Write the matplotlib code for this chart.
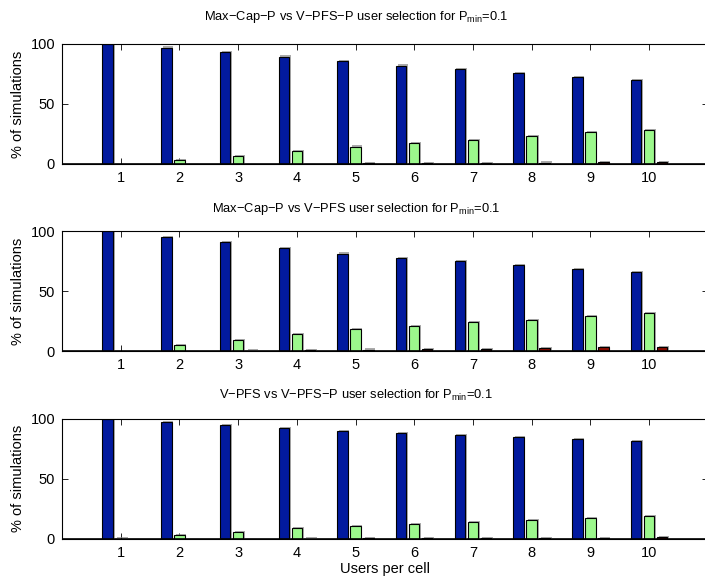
# -*- coding: utf-8 -*-
import matplotlib
matplotlib.use('Agg')
import matplotlib.pyplot as plt
import matplotlib.patheffects as pe
import numpy as np

users = [1, 2, 3, 4, 5, 6, 7, 8, 9, 10]

titles = ['Max\u2212Cap\u2212P vs V\u2212PFS\u2212P user selection for P$_{\\mathrm{min}}$=0.1',
          'Max\u2212Cap\u2212P vs V\u2212PFS user selection for P$_{\\mathrm{min}}$=0.1',
          'V\u2212PFS vs V\u2212PFS\u2212P user selection for P$_{\\mathrm{min}}$=0.1']

# subplot 1
blue1 = [100, 97, 93.5, 89.5, 85.5, 82, 79, 75.5, 72.2, 69.6]
green1 = [0.3, 3.5, 6.5, 10.5, 14.5, 17.7, 20, 23.3, 26.3, 28.3]
red1 = [0.2, 0.2, 0.2, 0.3, 0.5, 0.7, 1.1, 1.2, 1.6, 1.9]
# subplot 2
blue2 = [100, 95.3, 90.6, 85.6, 81.2, 77.6, 74.8, 71.5, 68.1, 65.7]
green2 = [0.3, 5, 9.1, 14.1, 18, 21, 23.8, 25.8, 28.8, 31.3]
red2 = [0.2, 0.3, 0.4, 0.5, 1.2, 1.3, 1.3, 2.2, 3.2, 3.3]
# subplot 3
blue3 = [100, 97.5, 94.7, 91.9, 89.7, 87.8, 86.4, 84.7, 82.8, 81.7]
green3 = [0.1, 3, 5.6, 8.6, 10.8, 12.2, 13.9, 15.3, 16.9, 18.6]
red3 = [0.05, 0.05, 0.05, 0.1, 0.3, 0.4, 0.5, 0.6, 0.8, 1.0]

series = [(blue1, green1, red1), (blue2, green2, red2), (blue3, green3, red3)]
colors = ['#021a9e', '#9cf88c', '#8a0c00']

plt.rcParams['font.family'] = ['Liberation Sans', 'DejaVu Sans']
plt.rcParams['mathtext.fontset'] = 'custom'
plt.rcParams['mathtext.rm'] = 'Liberation Sans'
plt.rcParams['mathtext.it'] = 'Liberation Sans:italic'

fig = plt.figure(figsize=(7.05, 5.78), dpi=100)

boxes = [0.7163, 0.3927, 0.068]
pads = [17.5, 14, 14]
x = np.array(users)
offs = [-0.222, 0.0, 0.222]
shadow = [pe.SimplePatchShadow(offset=(1.2, 0.8), shadow_rgbFace='#888888', alpha=0.7), pe.Normal()]

for i, (b, g, r) in enumerate(series):
    ax = fig.add_axes([0.0879, boxes[i], 0.916, 0.2076])
    for j, vals in enumerate((b, g, r)):
        bars = ax.bar(x + offs[j], vals, width=0.178, color=colors[j],
                      edgecolor='black', linewidth=0.8, zorder=2)
        for p in bars:
            p.set_path_effects(shadow)
    ax.set_xlim(0, 11)
    ax.set_ylim(0, 100)
    ax.set_xticks(users)
    ax.set_yticks([0, 50, 100])
    ax.tick_params(direction='in', length=4, width=0.6, top=True, right=True,
                   labelsize=10.5, pad=5)
    ax.axhline(0, color='black', linewidth=1.2, zorder=3)
    for s in ax.spines.values():
        s.set_linewidth(0.8)
    ax.set_ylabel('% of simulations', fontsize=10.5, labelpad=4)
    ax.set_title(titles[i], fontsize=9.3, pad=pads[i], x=0.455)

ax.set_xlabel('Users per cell', fontsize=10.5, labelpad=2)

fig.savefig('out.png', dpi=100)
